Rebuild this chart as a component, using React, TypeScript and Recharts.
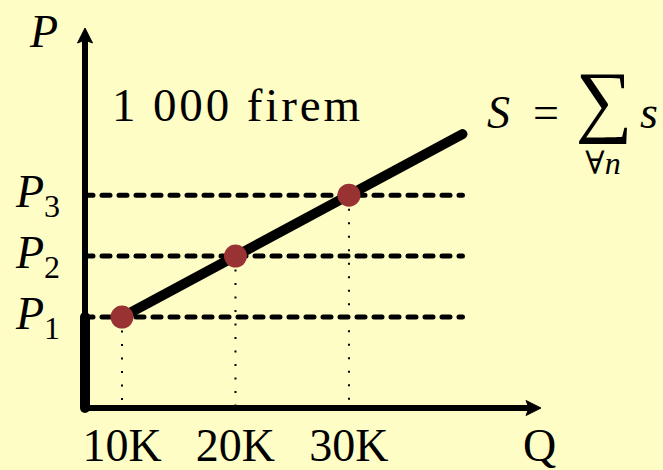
import {
  ComposedChart, XAxis, YAxis, Line, Scatter, ReferenceLine, Customized,
} from 'recharts'

// quantities in thousands, prices as P1..P3
const MARKET_Q = [10, 20, 30]
const MARKET_P = [1, 2, 3]
const SUPPLY_Q = [10, 40]
const SUPPLY_P = [1, 4]
const Q_TICKS = [10, 20, 30]
const Q_LABELS = ['10K', '20K', '30K']
const P_TICKS = [1, 2, 3]
const P_SUBS = ['1', '2', '3']
const Q_RANGE = [6.74, 46.92]
const P_RANGE = [-0.49, 5.74]
const DASH_END = 40

const W = 663
const H = 470
const FONT = "'Liberation Serif', 'DejaVu Serif', serif"
const BG = '#FEFDC5'
const DOT = '#993333'

const supply = SUPPLY_Q.map((q, i) => ({ q, p: SUPPLY_P[i] }))
const market = MARKET_Q.map((q, i) => ({ q, p: MARKET_P[i] }))

const Arrow = (props: any) => {
  const { x1, y1, x2, y2 } = props
  const len = Math.hypot(x2 - x1, y2 - y1)
  const ux = (x2 - x1) / len
  const uy = (y2 - y1) / len
  const L = 15
  const hw = 7.5
  const bx = x2 - ux * L
  const by = y2 - uy * L
  const nx = -uy
  const ny = ux
  const mx = x2 - ux * (L - 3)
  const my = y2 - uy * (L - 3)
  const pts = [
    `${x2},${y2}`,
    `${bx + nx * hw},${by + ny * hw}`,
    `${mx},${my}`,
    `${bx - nx * hw},${by - ny * hw}`,
  ].join(' ')
  return (
    <g>
      <line x1={x1} y1={y1} x2={mx} y2={my} stroke="#000" strokeWidth={6} />
      <polygon points={pts} fill="#000" stroke="#000" strokeWidth={1} strokeLinejoin="round" />
    </g>
  )
}

const txt = { fontFamily: FONT }

const QTick = ({ x, y, payload }: any) => {
  const i = Q_TICKS.indexOf(payload.value)
  return (
    <text x={x} y={y + 45} textAnchor="middle" fontSize={46} style={txt} fill="#000">
      {Q_LABELS[i]}
    </text>
  )
}

const PTick = ({ x, y, payload }: any) => {
  const i = P_TICKS.indexOf(payload.value)
  return (
    <text x={x} y={y + 12} textAnchor="end" style={txt} fill="#000">
      <tspan fontSize={46} fontStyle="italic">P</tspan>
      <tspan fontSize={32} dy={10}>{P_SUBS[i]}</tspan>
    </text>
  )
}

const Notes = () => (
  <g style={txt} fill="#000">
    <text x={30} y={47} fontSize={46} fontStyle="italic" style={txt}>P</text>
    <text x={523} y={461} fontSize={46} style={txt}>Q</text>
    <text x={112} y={121} fontSize={47} style={txt} textLength={248} lengthAdjust="spacing">1 000 firem</text>
    <text x={487} y={128} fontSize={46} fontStyle="italic" style={txt}>S</text>
    <text x={546} y={128} fontSize={46} textAnchor="middle" style={txt}>=</text>
    <text x={604} y={127} fontSize={80} textAnchor="middle" style={txt}>∑</text>
    <text x={640} y={128} fontSize={46} fontStyle="italic" style={txt}>s</text>
    <text x={603} y={174} fontSize={32} textAnchor="middle" style={txt}>
      ∀<tspan fontStyle="italic">n</tspan>
    </text>
  </g>
)

export default function App() {
  return (
    <div style={{ position: 'fixed', left: 0, top: 0, width: W, height: H, background: BG }}>
      <ComposedChart width={W} height={H} margin={{ top: 28, right: 122, bottom: 12, left: 15 }}>
        <XAxis
          type="number"
          dataKey="q"
          domain={Q_RANGE}
          ticks={Q_TICKS}
          height={50}
          axisLine={false}
          tickLine={false}
          tickSize={0}
          tickMargin={8}
          tick={<QTick />}
        />
        <YAxis
          type="number"
          dataKey="p"
          domain={P_RANGE}
          ticks={P_TICKS}
          width={70}
          axisLine={false}
          tickLine={false}
          tickSize={0}
          tickMargin={25}
          tick={<PTick />}
        />
        {MARKET_P.map(p => (
          <ReferenceLine
            key={`h${p}`}
            segment={[{ x: Q_RANGE[0], y: p }, { x: DASH_END, y: p }]}
            stroke="#000"
            strokeWidth={5}
            strokeDasharray="8 9"
            strokeLinecap="round"
            ifOverflow="visible"
          />
        ))}
        {MARKET_Q.map((q, i) => (
          <ReferenceLine
            key={`v${q}`}
            segment={[{ x: q, y: MARKET_P[i] }, { x: q, y: P_RANGE[0] }]}
            stroke="#000"
            strokeWidth={2}
            strokeDasharray="2 11.5"
            ifOverflow="visible"
          />
        ))}
        <ReferenceLine
          segment={[{ x: Q_RANGE[0], y: P_RANGE[0] }, { x: Q_RANGE[1], y: P_RANGE[0] }]}
          ifOverflow="visible"
          shape={Arrow}
        />
        <ReferenceLine
          segment={[{ x: Q_RANGE[0], y: P_RANGE[0] }, { x: Q_RANGE[0], y: P_RANGE[1] }]}
          ifOverflow="visible"
          shape={Arrow}
        />
        <ReferenceLine
          segment={[{ x: Q_RANGE[0], y: P_RANGE[0] }, { x: Q_RANGE[0], y: SUPPLY_P[0] }]}
          stroke="#000"
          strokeWidth={10}
          strokeLinecap="round"
          ifOverflow="visible"
        />
        <Line
          data={supply}
          dataKey="p"
          stroke="#000"
          strokeWidth={10}
          strokeLinecap="round"
          dot={false}
          activeDot={false}
          isAnimationActive={false}
        />
        <Scatter
          data={market}
          dataKey="p"
          fill={DOT}
          shape={(props: any) => <circle cx={props.cx} cy={props.cy} r={11.5} fill={DOT} />}
          isAnimationActive={false}
        />
        <Customized component={Notes} />
      </ComposedChart>
    </div>
  )
}
